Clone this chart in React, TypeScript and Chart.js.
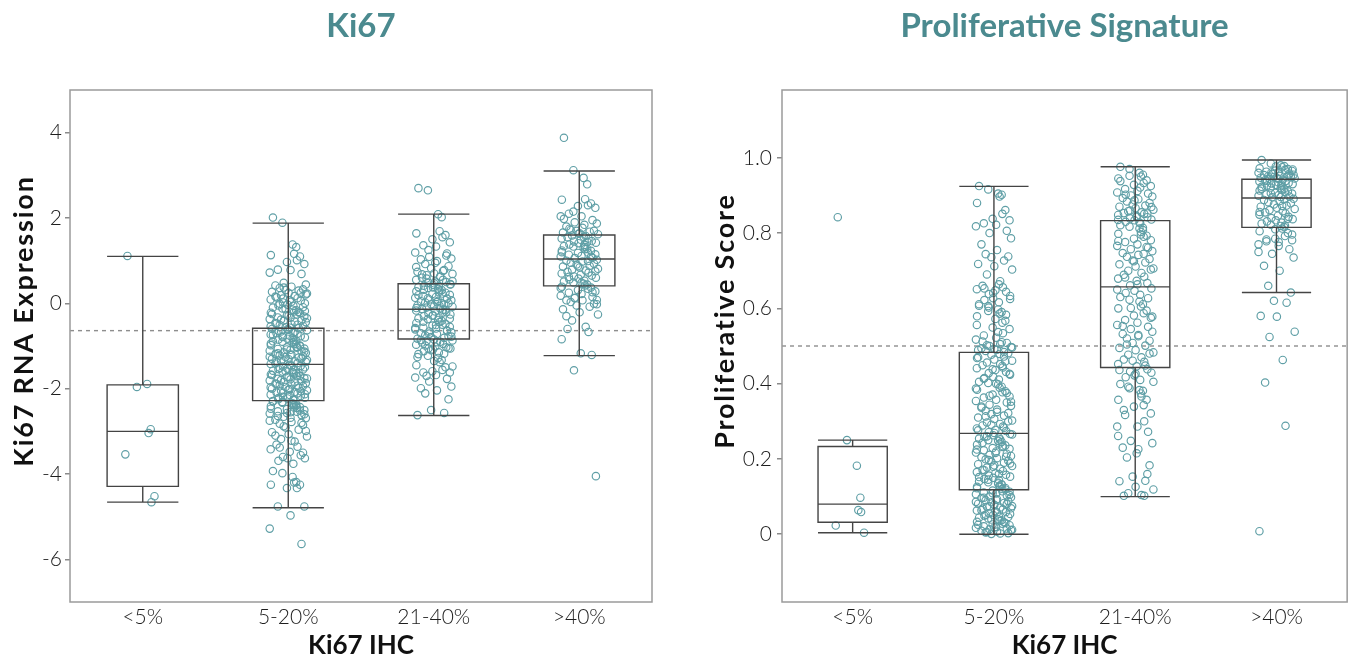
import React, { useEffect, useRef } from "react";
import { Chart, registerables } from "chart.js";

Chart.register(...registerables);

const FONT = "Lato, 'Open Sans', sans-serif";
const TITLE_COLOR = "#4b8a8f";
const POINT_COLOR = "#5f9fa6";
const BOX_COLOR = "#444444";
const FRAME_COLOR = "#9a9a9a";
const TEXT_COLOR = "#1e1e1e";

const CATEGORIES = ["<5%", "5-20%", "21-40%", ">40%"];
const X_AXIS_TITLE = "Ki67 IHC";

// ---------- Left panel: Ki67 RNA expression ----------
const KI67_TITLE = "Ki67";
const KI67_Y_TITLE = "Ki67 RNA Expression";
const KI67_Y_TICKS = [-6, -4, -2, 0, 2, 4];
const KI67_THRESHOLD = -0.64;
const KI67_MIN = [-4.66, -4.79, -2.63, -1.225];
const KI67_Q1 = [-4.29, -2.28, -0.835, 0.41];
const KI67_MED = [-3.0, -1.43, -0.14, 1.04];
const KI67_Q3 = [-1.91, -0.585, 0.46, 1.6];
const KI67_MAX = [1.1, 1.88, 2.09, 3.1];

const KI67_LT5 = [1.11, -1.96, -1.89, -2.95, -3.04, -3.54, -4.52, -4.66];
const KI67_5_20 = [
  2.01, 1.89, 1.38, 1.32, 1.16, 1.13, 1.1, 1.01, 0.97, 0.92, 0.79, 0.78, 0.72, 0.69, 0.48, 0.44, 0.42, 0.39,
  0.36, 0.33, 0.31, 0.3, 0.27, 0.24, 0.23, 0.19, 0.17, 0.14, 0.12, 0.09, 0.07, 0.06, 0.02, 0.0, -0.03, -0.05,
  -0.06, -0.1, -0.12, -0.15, -0.16, -0.19, -0.22, -0.23, -0.26, -0.28, -0.31, -0.33, -0.34, -0.37, -0.4, -0.41,
  -0.44, -0.46, -0.49, -0.51, -0.53, -0.56, -0.58,
  -0.6, -0.62, -0.63, -0.66, -0.67, -0.7, -0.71, -0.73, -0.76, -0.77, -0.79, -0.8, -0.83, -0.85, -0.86, -0.89,
  -0.9, -0.92, -0.95, -0.96, -0.98, -1.0, -1.02, -1.03, -1.06, -1.07, -1.09, -1.11, -1.12, -1.15, -1.16, -1.19,
  -1.2, -1.22, -1.24, -1.26, -1.27, -1.3, -1.31, -1.33, -1.35, -1.36, -1.38, -1.4, -1.42,
  -1.44, -1.47, -1.48, -1.5, -1.53, -1.54, -1.56, -1.58, -1.6, -1.61, -1.64, -1.65, -1.67, -1.7, -1.71, -1.73,
  -1.75, -1.77, -1.78, -1.81, -1.82, -1.84, -1.87, -1.88, -1.9, -1.92, -1.94, -1.96, -1.98, -2.0, -2.02, -2.04,
  -2.05, -2.08, -2.09, -2.11, -2.14, -2.15, -2.17, -2.19, -2.21, -2.23, -2.25, -2.27,
  -2.29, -2.31, -2.34, -2.36, -2.38, -2.41, -2.43, -2.45, -2.48, -2.5, -2.53, -2.55, -2.58, -2.62, -2.66, -2.69,
  -2.73, -2.78, -2.82, -2.85, -2.91, -2.96, -3.02, -3.07, -3.12, -3.18, -3.24, -3.31, -3.36, -3.42, -3.48, -3.56,
  -3.6, -3.63, -3.63, -3.69, -3.76, -3.93, -3.98, -4.07, -4.19, -4.2, -4.25, -4.25, -4.33, -4.33, -4.76, -4.76,
  -4.97, -5.28, -5.64,
  0.37, 0.21, 0.16, 0.04, -0.01, -0.09, -0.14, -0.2, -0.25, -0.29, -0.35, -0.38, -0.43, -0.47, -0.5, -0.54, -0.57,
  0.25, 0.11, -0.18,
  -0.61, -0.65, -0.69, -0.74, -0.78, -0.82, -0.87, -0.91, -0.94, -0.99, -1.04, -1.08, -1.13, -1.17, -1.21, -1.25,
  -1.29, -1.34, -1.37, -1.41,
  -1.46, -1.51, -1.55, -1.59, -1.63, -1.68, -1.72, -1.76, -1.8, -1.85, -1.89, -1.93, -1.97, -2.01, -2.06, -2.1,
  -2.13, -2.18, -2.22, -2.26,
  -2.3, -2.33, -2.37, -2.4, -2.44, -2.47, -2.51, -2.54, -2.57, -2.6, -2.64, -2.68, -2.75, -2.8, -2.88, -2.99, -3.1,
  -3.22, -3.38, -3.5,
];
const KI67_21_40 = [
  2.7, 2.65, 2.09, 2.02, 1.69, 1.64, 1.6, 1.55, 1.5, 1.43, 1.36, 1.33, 1.19, 1.17, 1.09, 1.05, 1.03, 0.99, 0.92,
  0.87, 0.82, 0.78, 0.74, 0.7, 0.69, 0.66, 0.63, 0.6, 0.55, 0.55, 0.51, 0.5, 0.48,
  0.45, 0.43, 0.41, 0.4, 0.38, 0.36, 0.34, 0.31, 0.3, 0.28, 0.25, 0.23, 0.22, 0.2, 0.17, 0.15, 0.13, 0.11, 0.09,
  0.07, 0.05, 0.03, 0.02, 0.0, -0.02, -0.03, -0.05, -0.07, -0.08, -0.1, -0.12, -0.13,
  -0.15, -0.17, -0.19, -0.21, -0.24, -0.26, -0.28, -0.3, -0.33, -0.35, -0.37, -0.39, -0.41, -0.44, -0.46, -0.48,
  -0.5, -0.52, -0.55, -0.57, -0.59, -0.61, -0.63, -0.66, -0.68, -0.7, -0.72, -0.75, -0.77, -0.79, -0.81, -0.83,
  -0.85, -0.87, -0.88, -0.9, -0.92, -0.95, -0.97, -1.01, -1.03, -1.06, -1.06, -1.08, -1.12, -1.15, -1.19, -1.23,
  -1.28, -1.33, -1.38, -1.45, -1.5, -1.56, -1.59, -1.62, -1.62, -1.68, -1.74, -1.77, -1.83, -1.95, -1.99, -2.04,
  -2.11, -2.25, -2.5, -2.57, -2.62,
  0.47, 0.52, 0.58, 0.62, 0.68, 0.76, 0.85, 0.95, 1.12, 1.25,
  0.44, 0.37, 0.32, 0.26, 0.19, 0.12, 0.06, 0.01, -0.06, -0.11,
  -0.16, -0.22, -0.29, -0.36, -0.43, -0.51, -0.58, -0.65, -0.71, -0.78,
  -0.86, -0.91, -0.99, -1.05, -1.1, -1.18, -1.26, -1.35, -1.48, -1.7,
];
const KI67_GT40 = [
  3.88, 3.12, 2.94, 2.79, 2.44, 2.43, 2.34, 2.3, 2.28, 2.24, 2.1, 2.04, 2.04, 1.95, 1.9, 1.87, 1.8, 1.77, 1.72,
  1.7, 1.7, 1.68, 1.66, 1.64, 1.62,
  1.59, 1.58, 1.55, 1.52, 1.52, 1.49, 1.46, 1.45, 1.42, 1.41, 1.38, 1.37, 1.34, 1.33, 1.31, 1.28, 1.27, 1.24,
  1.23, 1.19, 1.18, 1.15, 1.14, 1.11, 1.1, 1.07, 1.06,
  1.02, 1.0, 0.98, 0.95, 0.93, 0.91, 0.88, 0.86, 0.84, 0.81, 0.79, 0.77, 0.74, 0.72, 0.7, 0.67, 0.65, 0.63, 0.6,
  0.58, 0.56, 0.53, 0.51, 0.49, 0.46, 0.44, 0.42,
  0.39, 0.37, 0.34, 0.31, 0.28, 0.25, 0.22, 0.18, 0.15, 0.12, 0.08, 0.07, 0.07, 0.03, -0.01, -0.05, -0.08, -0.14,
  -0.21, -0.26, -0.4, -0.55, -0.6, -0.67, -0.84, -1.17, -1.21, -1.57, -4.05,
  1.63, 1.75, 1.84, 1.98, 2.15, 1.56, 1.44, 1.32, 1.2, 1.09, 0.99, 0.87, 0.75, 0.62, 0.48, 0.36, 0.26, 0.13, -0.02,
  -0.3,
];

// ---------- Right panel: Proliferative signature ----------
const PROLIF_TITLE = "Proliferative Signature";
const PROLIF_Y_TITLE = "Proliferative Score";
const PROLIF_Y_TICKS = [0, 0.2, 0.4, 0.6, 0.8, 1.0];
const PROLIF_THRESHOLD = 0.5;
const PROLIF_MIN = [0.004, 0.0, 0.1, 0.642];
const PROLIF_Q1 = [0.032, 0.118, 0.443, 0.815];
const PROLIF_MED = [0.08, 0.268, 0.657, 0.893];
const PROLIF_Q3 = [0.233, 0.483, 0.833, 0.943];
const PROLIF_MAX = [0.25, 0.924, 0.976, 0.994];

const PROLIF_LT5 = [0.842, 0.25, 0.182, 0.097, 0.064, 0.023, 0.004, 0.059];
const PROLIF_5_20 = [
  0.925, 0.916, 0.905, 0.902, 0.897, 0.88, 0.861, 0.851, 0.838, 0.834, 0.826, 0.822, 0.818, 0.806, 0.8, 0.786,
  0.77, 0.755, 0.744, 0.738, 0.736, 0.727, 0.718, 0.712, 0.703, 0.69, 0.672, 0.66, 0.656, 0.651, 0.648, 0.644,
  0.638, 0.633, 0.627, 0.622, 0.616, 0.611, 0.606, 0.597, 0.59, 0.586, 0.579, 0.567, 0.562, 0.549, 0.545, 0.528,
  0.522, 0.517, 0.508, 0.5, 0.497, 0.494, 0.49, 0.487,
  0.481, 0.477, 0.472, 0.47, 0.464, 0.461, 0.456, 0.452, 0.449, 0.443, 0.441, 0.436, 0.431, 0.428, 0.424, 0.418,
  0.415, 0.411, 0.405, 0.402, 0.398, 0.392, 0.389, 0.384, 0.38, 0.377, 0.371, 0.366, 0.363, 0.357, 0.354, 0.35,
  0.344, 0.341, 0.336, 0.331, 0.328, 0.322, 0.319, 0.315, 0.31, 0.306, 0.302, 0.297, 0.293, 0.289, 0.286, 0.281,
  0.277, 0.274, 0.271,
  0.266, 0.263, 0.259, 0.257, 0.254, 0.25, 0.248, 0.245, 0.241, 0.238, 0.236, 0.232, 0.229, 0.227, 0.223, 0.22,
  0.217, 0.214, 0.211, 0.208, 0.205, 0.202, 0.199, 0.195, 0.193, 0.19, 0.186, 0.183, 0.181, 0.177, 0.174, 0.171,
  0.168, 0.165, 0.162, 0.158, 0.156, 0.153, 0.15, 0.147, 0.144, 0.14, 0.138, 0.135, 0.131, 0.129, 0.126, 0.123,
  0.12,
  0.116, 0.113, 0.111, 0.108, 0.106, 0.103, 0.1, 0.098, 0.096, 0.093, 0.09, 0.088, 0.085, 0.083, 0.081, 0.078,
  0.075, 0.073, 0.071, 0.068, 0.066, 0.063, 0.061, 0.059, 0.056, 0.054, 0.051, 0.049, 0.047, 0.044, 0.042, 0.04,
  0.037, 0.035, 0.033, 0.03, 0.028, 0.026, 0.024, 0.021, 0.019, 0.017, 0.015, 0.013, 0.011, 0.009, 0.007, 0.005,
  0.003, 0.001,
  0.484, 0.489, 0.492, 0.496, 0.502, 0.505, 0.512, 0.534, 0.556, 0.572, 0.583, 0.602, 0.625, 0.641, 0.653, 0.664,
  0.607, 0.593, 0.537, 0.51,
  0.479, 0.468, 0.459, 0.447, 0.438, 0.426, 0.413, 0.4, 0.387, 0.375, 0.368, 0.352, 0.339, 0.325, 0.313, 0.3,
  0.291, 0.283, 0.276, 0.269,
  0.265, 0.26, 0.252, 0.243, 0.234, 0.225, 0.216, 0.206, 0.197, 0.188, 0.179, 0.17, 0.16, 0.152, 0.145, 0.137,
  0.133, 0.127, 0.122, 0.119,
  0.114, 0.109, 0.104, 0.097, 0.091, 0.086, 0.08, 0.074, 0.069, 0.064, 0.058, 0.052, 0.046, 0.039, 0.032, 0.025,
  0.018, 0.012, 0.006, 0.002,
];
const PROLIF_21_40 = [
  0.976, 0.97, 0.96, 0.955, 0.95, 0.945, 0.94, 0.933, 0.928, 0.925, 0.917, 0.912, 0.908, 0.905, 0.9, 0.897, 0.893,
  0.89, 0.884, 0.88, 0.876, 0.873, 0.87, 0.866, 0.862, 0.858, 0.855, 0.853, 0.851, 0.848, 0.845, 0.842, 0.839,
  0.836, 0.834,
  0.83, 0.826, 0.821, 0.817, 0.812, 0.808, 0.803, 0.798, 0.793, 0.79, 0.785, 0.781, 0.776, 0.77, 0.766, 0.761,
  0.757, 0.752, 0.747, 0.742, 0.737, 0.731, 0.727, 0.722, 0.717, 0.711, 0.706, 0.7, 0.694, 0.689, 0.684, 0.679,
  0.673, 0.667, 0.661,
  0.653, 0.647, 0.641, 0.636, 0.63, 0.623, 0.618, 0.611, 0.605, 0.6, 0.594, 0.587, 0.581, 0.575, 0.569, 0.562,
  0.556, 0.551, 0.545, 0.538, 0.532, 0.526, 0.52, 0.514, 0.508, 0.501, 0.495, 0.489, 0.483, 0.477, 0.47, 0.464,
  0.458, 0.452, 0.446,
  0.438, 0.432, 0.429, 0.422, 0.417, 0.41, 0.399, 0.388, 0.383, 0.381, 0.374, 0.357, 0.357, 0.343, 0.339, 0.321,
  0.317, 0.286, 0.286, 0.272, 0.248, 0.242, 0.23, 0.226, 0.204, 0.183, 0.153, 0.142, 0.141, 0.126, 0.119, 0.109,
  0.104, 0.102, 0.102,
  0.835, 0.843, 0.852, 0.86, 0.869, 0.887, 0.902, 0.921, 0.938, 0.952,
  0.828, 0.814, 0.796, 0.779, 0.763, 0.745, 0.725, 0.703, 0.682, 0.664,
  0.65, 0.627, 0.601, 0.578, 0.553, 0.529, 0.504, 0.48, 0.461, 0.448,
  0.436, 0.426, 0.405, 0.392, 0.366, 0.33, 0.3, 0.261, 0.215, 0.16,
];
const PROLIF_GT40 = [
  0.994, 0.985, 0.98, 0.978, 0.975, 0.972, 0.97, 0.968, 0.966, 0.965, 0.963, 0.962, 0.96, 0.958, 0.957, 0.955,
  0.954, 0.952, 0.951, 0.95, 0.949, 0.948, 0.947, 0.946, 0.945, 0.944,
  0.942, 0.94, 0.938, 0.937, 0.935, 0.933, 0.932, 0.93, 0.928, 0.926, 0.925, 0.923, 0.921, 0.919, 0.917, 0.915,
  0.913, 0.911, 0.909, 0.907, 0.905, 0.903, 0.901, 0.899, 0.897, 0.895,
  0.891, 0.888, 0.885, 0.882, 0.879, 0.876, 0.873, 0.87, 0.867, 0.864, 0.861, 0.858, 0.855, 0.852, 0.849, 0.846,
  0.843, 0.84, 0.837, 0.834, 0.831, 0.828, 0.825, 0.822, 0.819, 0.816,
  0.812, 0.805, 0.8, 0.792, 0.785, 0.781, 0.778, 0.776, 0.77, 0.757, 0.745, 0.735, 0.713, 0.7, 0.66, 0.642, 0.62,
  0.615, 0.58, 0.578, 0.538, 0.524, 0.463, 0.403, 0.288, 0.008,
  0.944, 0.953, 0.961, 0.969, 0.977, 0.939, 0.929, 0.918, 0.906, 0.896, 0.89, 0.872, 0.856, 0.838, 0.82, 0.81,
  0.796, 0.783, 0.766, 0.75,
];

// horizontal jitter pattern (fraction of the jitter half-width), cycled through each group
const JITTER = [
  -0.81, -0.31, 0.23, 0.42, 0.31, -0.92, 0.62, 0.46, -0.07, 0.85, -0.55, 0.12, -0.98, 0.7, -0.24, 0.93, -0.68,
  0.17, -0.45, 0.78, -0.14, 0.55, -0.86, 0.02, 0.99, -0.38, 0.34, -0.62, 0.49, -0.93, 0.08, 0.66, -0.28, 0.88,
  -0.04, -0.52, 0.27,
];
const JITTER_WIDTH = 0.13;
const BOX_HALF = 0.245;

type Stats = { min: number[]; q1: number[]; med: number[]; q3: number[]; max: number[] };

type PanelSpec = {
  title: string;
  yTitle: string;
  yTicks: number[];
  yMin: number;
  yMax: number;
  threshold: number;
  stats: Stats;
  groups: number[][];
  tickFmt: (v: number) => string;
  yAxisWidth: number;
  padRight: number;
  tickPadding: number;
  yTitleX: number;
};

function buildPoints(groups: number[][]) {
  const data: { x: number; y: number }[] = [];
  groups.forEach((vals, g) =>
    vals.forEach((v, i) => data.push({ x: g + JITTER[i % JITTER.length] * JITTER_WIDTH, y: v }))
  );
  return data;
}

const thresholdPlugin = {
  id: "threshold",
  beforeDatasetsDraw(chart: any, _a: any, opts: any) {
    const { ctx, chartArea, scales } = chart;
    const py = scales.y.getPixelForValue(opts.value);
    ctx.save();
    ctx.strokeStyle = "#8e8e8e";
    ctx.lineWidth = 1.4;
    ctx.setLineDash([4, 4]);
    ctx.beginPath();
    ctx.moveTo(chartArea.left, py);
    ctx.lineTo(chartArea.right, py);
    ctx.stroke();
    ctx.restore();
  },
};

const boxPlugin = {
  id: "boxplot",
  afterDatasetsDraw(chart: any, _a: any, opts: any) {
    const { ctx, scales } = chart;
    const x = scales.x;
    const y = scales.y;
    const s: Stats = opts.stats;
    ctx.save();
    ctx.strokeStyle = BOX_COLOR;
    ctx.lineWidth = 1.4;
    for (let g = 0; g < s.med.length; g++) {
      const xl = x.getPixelForValue(g - BOX_HALF);
      const xr = x.getPixelForValue(g + BOX_HALF);
      const xc = x.getPixelForValue(g);
      const pMin = y.getPixelForValue(s.min[g]);
      const pQ1 = y.getPixelForValue(s.q1[g]);
      const pMed = y.getPixelForValue(s.med[g]);
      const pQ3 = y.getPixelForValue(s.q3[g]);
      const pMax = y.getPixelForValue(s.max[g]);
      ctx.beginPath();
      ctx.moveTo(xc, pQ3);
      ctx.lineTo(xc, pMax);
      ctx.moveTo(xc, pQ1);
      ctx.lineTo(xc, pMin);
      ctx.moveTo(xl, pMax);
      ctx.lineTo(xr, pMax);
      ctx.moveTo(xl, pMin);
      ctx.lineTo(xr, pMin);
      ctx.moveTo(xl, pMed);
      ctx.lineTo(xr, pMed);
      ctx.rect(xl, pQ3, xr - xl, pQ1 - pQ3);
      ctx.stroke();
    }
    ctx.restore();
  },
};

const framePlugin = {
  id: "frame",
  afterDraw(chart: any, _a: any, opts: any) {
    const { ctx, chartArea } = chart;
    ctx.save();
    ctx.strokeStyle = FRAME_COLOR;
    ctx.lineWidth = 1.5;
    ctx.strokeRect(chartArea.left, chartArea.top, chartArea.right - chartArea.left, chartArea.bottom - chartArea.top);
    // rotated y-axis title
    ctx.translate(opts.yTitleX, opts.yTitleY);
    ctx.rotate(-Math.PI / 2);
    ctx.font = `bold 27px ${FONT}`;
    (ctx as any).letterSpacing = "1.8px";
    ctx.fillStyle = "#111";
    ctx.textAlign = "center";
    ctx.textBaseline = "middle";
    ctx.fillText(opts.yTitle, 0, 0);
    ctx.restore();
  },
};

function Panel({ spec }: { spec: PanelSpec }) {
  const ref = useRef<HTMLCanvasElement | null>(null);
  useEffect(() => {
    if (!ref.current) return;
    const chart = new Chart(ref.current, {
      type: "scatter",
      data: {
        datasets: [
          {
            data: buildPoints(spec.groups),
            pointRadius: 3.7,
            pointBorderWidth: 1.15,
            borderColor: POINT_COLOR,
            backgroundColor: "rgba(0,0,0,0)",
            pointHoverRadius: 3.7,
          },
        ],
      },
      options: {
        responsive: false,
        animation: false,
        events: [],
        layout: { padding: { left: 0, right: spec.padRight, top: 0, bottom: 0 } },
        plugins: {
          legend: { display: false },
          tooltip: { enabled: false },
          title: {
            display: true,
            text: spec.title,
            color: TITLE_COLOR,
            fullSize: false,
            font: { family: FONT, size: 33, weight: "bold", lineHeight: 1.2 },
            padding: { top: 7, bottom: 43.4 },
          },
          threshold: { value: spec.threshold },
          boxplot: { stats: spec.stats },
          frame: { yTitle: spec.yTitle, yTitleX: spec.yTitleX, yTitleY: 321 },
        } as any,
        scales: {
          x: {
            type: "linear",
            min: -0.5,
            max: 3.5,
            afterBuildTicks: (s: any) => {
              s.ticks = CATEGORIES.map((_, i) => ({ value: i }));
            },
            afterFit: (s: any) => {
              s.height = 59;
            },
            ticks: {
              callback: (v: any) => CATEGORIES[Math.round(Number(v))],
              color: TEXT_COLOR,
              font: { family: FONT, size: 21, weight: 300, lineHeight: 1.2 },
              padding: 3,
              maxRotation: 0,
              autoSkip: false,
            },
            grid: { display: false, drawTicks: false },
            border: { display: false },
            title: {
              display: true,
              text: X_AXIS_TITLE,
              color: "#111",
              font: { family: FONT, size: 26, weight: "bold", lineHeight: 1.2 },
              padding: { top: 0, bottom: 0 },
            },
          },
          y: {
            type: "linear",
            min: spec.yMin,
            max: spec.yMax,
            afterBuildTicks: (s: any) => {
              s.ticks = spec.yTicks.map((v) => ({ value: v }));
            },
            afterFit: (s: any) => {
              s.width = spec.yAxisWidth;
            },
            ticks: {
              callback: (v: any) => spec.tickFmt(Number(v)),
              color: TEXT_COLOR,
              font: { family: FONT, size: 21, weight: 300, lineHeight: 1.2 },
              padding: spec.tickPadding,
            },
            grid: {
              drawOnChartArea: false,
              drawTicks: true,
              tickLength: 5,
              color: "#8a8a8a",
              lineWidth: 1.5,
            },
            border: { display: false },
          },
        },
      },
      plugins: [thresholdPlugin, boxPlugin, framePlugin],
    } as any);
    return () => chart.destroy();
  }, [spec]);
  return <canvas ref={ref} width={676} height={661} style={{ display: "block", width: 676, height: 661 }} />;
}

const LEFT_SPEC: PanelSpec = {
  title: KI67_TITLE,
  yTitle: KI67_Y_TITLE,
  yTicks: KI67_Y_TICKS,
  yMin: -7,
  yMax: 5,
  threshold: KI67_THRESHOLD,
  stats: { min: KI67_MIN, q1: KI67_Q1, med: KI67_MED, q3: KI67_Q3, max: KI67_MAX },
  groups: [KI67_LT5, KI67_5_20, KI67_21_40, KI67_GT40],
  tickFmt: (v) => String(v),
  yAxisWidth: 70,
  padRight: 24,
  tickPadding: 3,
  yTitleX: 24,
};

const RIGHT_SPEC: PanelSpec = {
  title: PROLIF_TITLE,
  yTitle: PROLIF_Y_TITLE,
  yTicks: PROLIF_Y_TICKS,
  yMin: -0.18,
  yMax: 1.18,
  threshold: PROLIF_THRESHOLD,
  stats: { min: PROLIF_MIN, q1: PROLIF_Q1, med: PROLIF_MED, q3: PROLIF_Q3, max: PROLIF_MAX },
  groups: [PROLIF_LT5, PROLIF_5_20, PROLIF_21_40, PROLIF_GT40],
  tickFmt: (v) => (v === 0 ? "0" : v.toFixed(1)),
  yAxisWidth: 106,
  padRight: 2,
  tickPadding: 5,
  yTitleX: 49,
};

export default function App() {
  return (
    <div style={{ position: "fixed", left: 0, top: 0, width: 1352, height: 661, background: "#fff", display: "flex" }}>
      <Panel spec={LEFT_SPEC} />
      <Panel spec={RIGHT_SPEC} />
    </div>
  );
}
